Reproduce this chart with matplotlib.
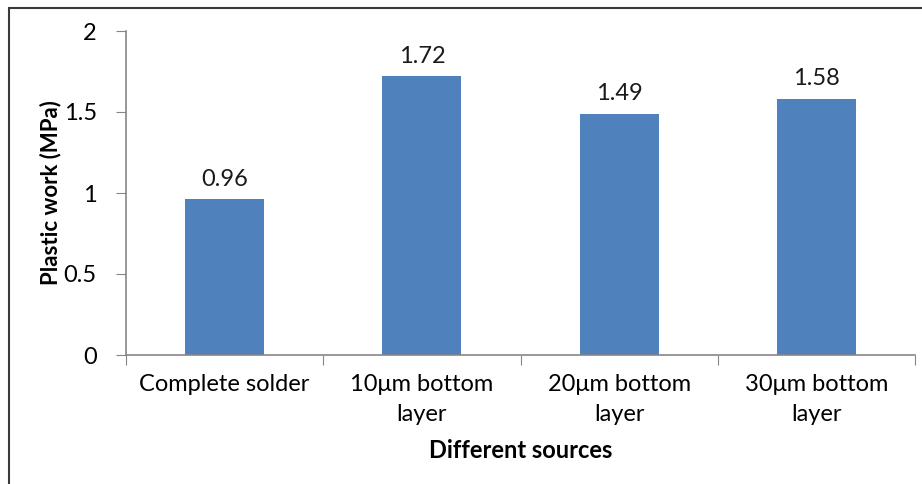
import matplotlib.pyplot as plt
from matplotlib.patches import Rectangle
import numpy as np

plt.rcParams['font.family'] = ['Lato', 'DejaVu Sans']

categories = ['Complete solder', '10\u03bcm bottom\nlayer', '20\u03bcm bottom\nlayer', '30\u03bcm bottom\nlayer']
plastic_work = [0.96, 1.72, 1.49, 1.58]
value_labels = ['0.96', '1.72', '1.49', '1.58']

bar_color = '#4F81BD'
axis_color = '#868686'
fs = 17

fig = plt.figure(figsize=(9.22, 4.84), dpi=100)
ax = fig.add_axes([126 / 922, 1 - 355 / 484, (915 - 126) / 922, (355 - 31) / 484])

x = np.arange(len(categories))
ax.bar(x, plastic_work, width=0.4, color=bar_color, zorder=2)
for xi, v, lab in zip(x, plastic_work, value_labels):
    ax.text(xi, v + 0.06, lab, ha='center', va='bottom', fontsize=fs, color='#1a1a1a')

ax.set_xlim(-0.5, len(categories) - 0.5)
ax.set_ylim(0, 2)
ax.set_yticks([0, 0.5, 1, 1.5, 2])
ax.set_yticklabels(['0', '0.5', '1', '1.5', '2'], fontsize=fs)

# category labels sit between the boundary ticks
ax.set_xticks(np.arange(len(categories) + 1) - 0.5)
ax.set_xticklabels([])
ax.set_xticks(x, minor=True)
ax.set_xticklabels(categories, minor=True, fontsize=fs, linespacing=1.5)
ax.tick_params(axis='x', which='minor', length=0, pad=14)
ax.tick_params(axis='x', which='major', length=7, color=axis_color, direction='out')
ax.tick_params(axis='y', length=7, color=axis_color, direction='out', pad=14)

for side in ['top', 'right']:
    ax.spines[side].set_visible(False)
for side in ['left', 'bottom']:
    ax.spines[side].set_color(axis_color)
    ax.spines[side].set_linewidth(1.2)

ax.set_ylabel('Plastic work (MPa)', fontsize=16, fontweight='bold', labelpad=2)
ax.set_xlabel('Different sources', fontsize=fs, fontweight='bold', labelpad=10)

# outer chart frame
fig.patches.append(Rectangle((9 / 922, -0.1), 1.2, 1 - 8 / 484 + 0.1, transform=fig.transFigure,
                             fill=False, edgecolor='#3a3a3a', linewidth=1.5))

fig.savefig('out.png', dpi=100)
